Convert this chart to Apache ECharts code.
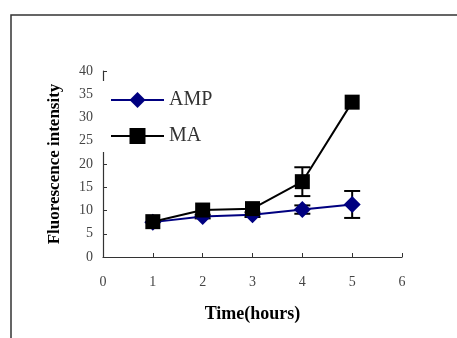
<!DOCTYPE html>
<html><head><meta charset="utf-8">
<script src="https://cdn.jsdelivr.net/npm/echarts@6/dist/echarts.min.js"></script>
<style>html,body{margin:0;padding:0;background:#fff}#c{width:457px;height:338px}</style>
</head><body><div id="c"></div>
<script>
var hours = [1, 2, 3, 4, 5];
var ampValues = [7.5, 8.7, 9.1, 10.2, 11.3];
var ampErrors = [0, 0.4, 0.5, 0.9, 2.9];
var maValues = [7.6, 10.1, 10.4, 16.2, 33.3];
var maErrors = [0, 0, 0, 3.1, 0];
var xTicks = [0, 1, 2, 3, 4, 5, 6];
var yTicks = [0, 5, 10, 15, 20, 25, 30, 35, 40];

var font = '"Liberation Serif", "Times New Roman", serif';
function pts(v){ return hours.map(function(h,i){ return [h, v[i]]; }); }
function errData(v,e){ return hours.map(function(h,i){ return [h, v[i]-e[i], v[i]+e[i]]; }); }
function errRender(params, api){
  if (api.value(2) - api.value(1) <= 0) return null;
  var x = api.value(0);
  var lo = api.coord([x, api.value(1)]);
  var hi = api.coord([x, api.value(2)]);
  var w = 8;
  var st = {stroke:'#000', lineWidth:2};
  return {type:'group', children:[
    {type:'line', shape:{x1:lo[0],y1:lo[1],x2:hi[0],y2:hi[1]}, style:st},
    {type:'line', shape:{x1:lo[0]-w,y1:lo[1],x2:lo[0]+w,y2:lo[1]}, style:st},
    {type:'line', shape:{x1:hi[0]-w,y1:hi[1],x2:hi[0]+w,y2:hi[1]}, style:st}
  ]};
}
var chart = echarts.init(document.getElementById('c'));
chart.setOption({
  animation:false,
  backgroundColor:'#fff',
  graphic:[{type:'rect', shape:{x:11,y:15,width:460,height:340}, style:{fill:'none', stroke:'#333', lineWidth:1.5}, z:-1}],
  grid:{left:103, right:55, top:71, bottom:81, containLabel:false},
  xAxis:{type:'value', min:0, max:6, interval:1,
    name:'Time(hours)', nameLocation:'middle', nameGap:48,
    nameTextStyle:{fontFamily:font, fontWeight:'bold', fontSize:18, color:'#000'},
    axisLine:{lineStyle:{color:'#333', width:1.2}},
    axisTick:{inside:true, length:4, lineStyle:{color:'#333'}},
    axisLabel:{fontFamily:font, fontSize:14, color:'#444', margin:18,
      formatter:function(v){ return xTicks.indexOf(v)>=0 ? String(v) : ''; }},
    splitLine:{show:false}},
  yAxis:{type:'value', min:0, max:40, interval:5,
    name:'Fluorescence intensity', nameLocation:'middle', nameGap:40, nameRotate:90,
    nameTextStyle:{fontFamily:font, fontWeight:'bold', fontSize:17, color:'#000'},
    axisLine:{show:true, lineStyle:{color:'#333', width:1.2}},
    axisTick:{show:true, inside:true, length:4, lineStyle:{color:'#333'}},
    axisLabel:{fontFamily:font, fontSize:14, color:'#444', margin:10,
      formatter:function(v){ return yTicks.indexOf(v)>=0 ? String(v) : ''; }},
    splitLine:{show:false}},
  legend:{left:98, top:81, orient:'vertical', padding:[9,5,6,12], itemGap:16,
    itemWidth:53, itemHeight:20, backgroundColor:'#fff', z:10,
    textStyle:{fontFamily:font, fontSize:20, color:'#333', padding:[0,0,0,0]},
    data:['AMP','MA']},
  series:[
    {name:'AMP-err', type:'custom', renderItem:errRender, data:errData(ampValues, ampErrors), z:2, silent:true},
    {name:'AMP', type:'line', data:pts(ampValues), symbol:'diamond', symbolSize:17,
      itemStyle:{color:'#000080'}, lineStyle:{color:'#000080', width:2}, z:3},
    {name:'MA-err', type:'custom', renderItem:errRender, data:errData(maValues, maErrors), z:4, silent:true},
    {name:'MA', type:'line', data:pts(maValues), symbol:'rect', symbolSize:15,
      itemStyle:{color:'#000'}, lineStyle:{color:'#000', width:2}, z:5}
  ]
});
</script></body></html>
